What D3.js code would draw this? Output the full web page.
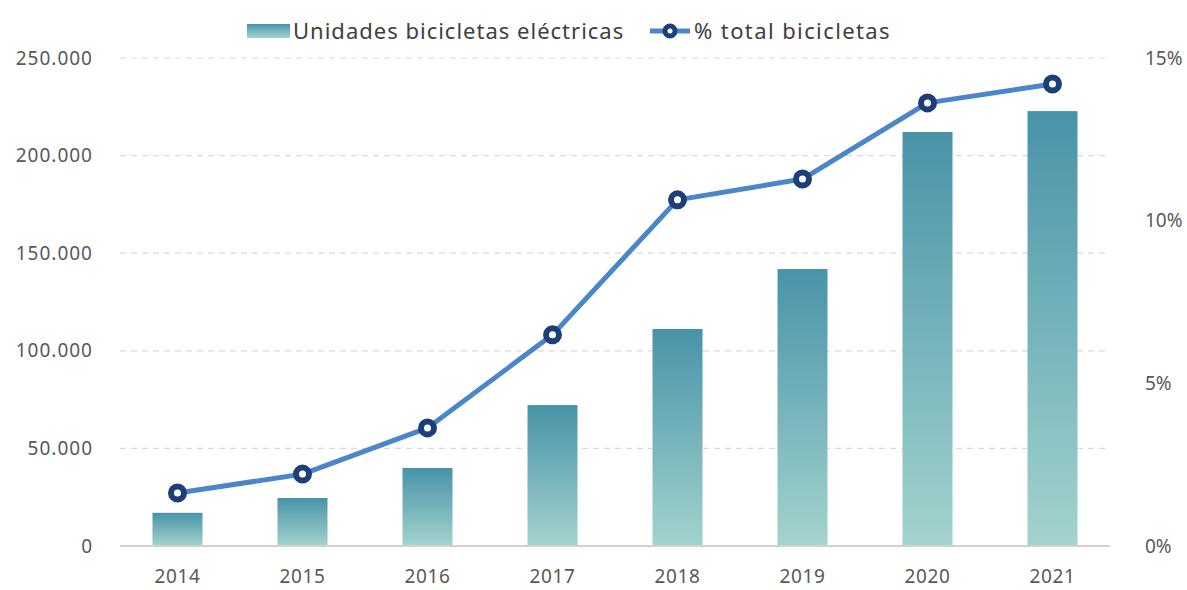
<!DOCTYPE html>
<html>
<head>
    <meta charset="utf-8">
    <script src="https://d3js.org/d3.v7.min.js"></script>
    <style>
        body { margin: 0; background: #fff; overflow: hidden; }
        svg { display: block; }
        text { font-family: "Noto Sans", Lato, sans-serif; }
    </style>
</head>
<body>
<svg id="chart"></svg>
<script>
    var years = ['2014', '2015', '2016', '2017', '2018', '2019', '2020', '2021'];
    var unidades = [17000, 24600, 40000, 72200, 111200, 141900, 212100, 222800];
    var porcentaje = [1.63, 2.21, 3.63, 6.49, 10.64, 11.28, 13.62, 14.2];
    var leftTicks = [0, 50000, 100000, 150000, 200000, 250000];
    var rightTicks = [0, 5, 10, 15];
    var legendLabels = ['Unidades bicicletas eléctricas', '% total bicicletas'];

    var width = 1187;
    var height = 590;
    var margin = { top: 58, right: 72, bottom: 44, left: 115 };
    var innerWidth = width - margin.left - margin.right;
    var innerHeight = height - margin.top - margin.bottom;

    var svg = d3.select('#chart')
        .attr('width', width)
        .attr('height', height);

    var defs = svg.append('defs');
    var grad = defs.append('linearGradient')
        .attr('id', 'barGrad')
        .attr('x1', 0).attr('y1', 0).attr('x2', 0).attr('y2', 1);
    grad.append('stop').attr('offset', '0%').attr('stop-color', '#4893a8');
    grad.append('stop').attr('offset', '100%').attr('stop-color', '#a3d3cd');

    var chart = svg.append('g')
        .attr('transform', 'translate(' + margin.left + ',' + margin.top + ')');

    var xScale = d3.scaleBand()
        .domain(years)
        .range([0, innerWidth])
        .paddingInner(0.6)
        .paddingOuter(0.3);

    var yLeft = d3.scaleLinear()
        .domain([0, 250000])
        .range([innerHeight, 0]);

    var yRight = d3.scaleLinear()
        .domain([0, 15])
        .range([innerHeight, 0]);

    // grid
    chart.selectAll('.grid')
        .data(leftTicks.slice(1))
        .enter()
        .append('line')
        .attr('x1', 5)
        .attr('x2', innerWidth - 5)
        .attr('y1', function(d) { return yLeft(d); })
        .attr('y2', function(d) { return yLeft(d); })
        .attr('stroke', '#d9d9d9')
        .attr('stroke-width', 1.2)
        .attr('stroke-dasharray', '6,5');

    // left axis
    var leftAxis = chart.append('g')
        .call(d3.axisLeft(yLeft)
            .tickValues(leftTicks)
            .tickSize(0)
            .tickPadding(22)
            .tickFormat(function(d) { return d3.format(',')(d).replace(/,/g, '.'); }));
    leftAxis.select('.domain').remove();
    leftAxis.selectAll('text')
        .style('font-size', '19px')
        .style('letter-spacing', '1px')
        .attr('fill', '#595959');

    // right axis
    var rightAxis = chart.append('g')
        .attr('transform', 'translate(' + innerWidth + ',0)')
        .call(d3.axisRight(yRight)
            .tickValues(rightTicks)
            .tickSize(0)
            .tickPadding(30)
            .tickFormat(function(d) { return d + '%'; }));
    rightAxis.select('.domain').remove();
    rightAxis.selectAll('text')
        .style('font-size', '19px')
        .attr('fill', '#595959');

    // bars
    chart.selectAll('.bar')
        .data(unidades)
        .enter()
        .append('rect')
        .attr('class', 'bar')
        .attr('x', function(d, i) { return xScale(years[i]); })
        .attr('y', function(d) { return yLeft(d); })
        .attr('width', xScale.bandwidth())
        .attr('height', function(d) { return innerHeight - yLeft(d); })
        .attr('fill', 'url(#barGrad)');

    // x axis
    var xAxis = chart.append('g')
        .attr('transform', 'translate(0,' + innerHeight + ')')
        .call(d3.axisBottom(xScale).tickSize(0).tickPadding(24));
    xAxis.select('.domain')
        .attr('stroke', '#d0d0d0')
        .attr('stroke-width', 2)
        .attr('d', 'M5,0H' + (innerWidth - 5));
    xAxis.selectAll('text')
        .style('font-size', '19px')
        .style('letter-spacing', '0.6px')
        .attr('fill', '#595959');

    // line
    var cx = function(d, i) { return xScale(years[i]) + xScale.bandwidth() / 2; };
    var line = d3.line()
        .x(cx)
        .y(function(d) { return yRight(d); });

    chart.append('path')
        .datum(porcentaje)
        .attr('d', line)
        .attr('fill', 'none')
        .attr('stroke', '#4a86c8')
        .attr('stroke-width', 5)
        .attr('stroke-linejoin', 'round');

    chart.selectAll('.dot')
        .data(porcentaje)
        .enter()
        .append('circle')
        .attr('cx', cx)
        .attr('cy', function(d) { return yRight(d); })
        .attr('r', 6.5)
        .attr('fill', '#ffffff')
        .attr('stroke', '#1d3f78')
        .attr('stroke-width', 6);

    // legend
    var legend = svg.append('g').attr('transform', 'translate(247,31)');
    legend.append('rect')
        .attr('x', 0).attr('y', -7)
        .attr('width', 43).attr('height', 14)
        .attr('fill', 'url(#barGrad)');
    legend.append('text')
        .attr('x', 46).attr('y', 0)
        .attr('dy', '0.35em')
        .style('font-size', '22px')
        .style('letter-spacing', '1px')
        .attr('fill', '#404040')
        .text(legendLabels[0]);
    legend.append('line')
        .attr('x1', 403).attr('x2', 443)
        .attr('y1', 0).attr('y2', 0)
        .attr('stroke', '#4a86c8')
        .attr('stroke-width', 5);
    legend.append('circle')
        .attr('cx', 423).attr('cy', 0)
        .attr('r', 5)
        .attr('fill', '#ffffff')
        .attr('stroke', '#1d3f78')
        .attr('stroke-width', 5);
    legend.append('text')
        .attr('x', 447).attr('y', 0)
        .attr('dy', '0.35em')
        .style('font-size', '22px')
        .style('letter-spacing', '1.4px')
        .attr('fill', '#404040')
        .text(legendLabels[1]);
</script>
</body>
</html>
